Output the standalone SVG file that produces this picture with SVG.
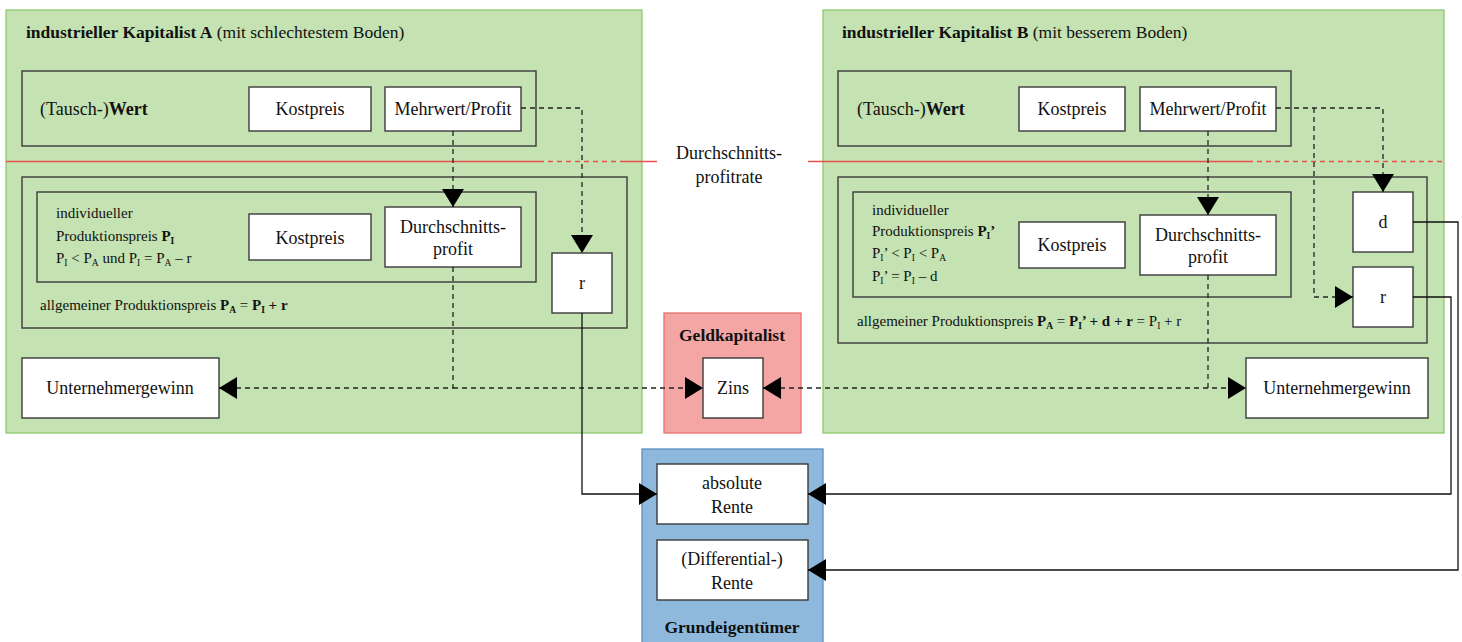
<svg xmlns="http://www.w3.org/2000/svg" width="1462" height="642" viewBox="0 0 1462 642">
<defs>
<style>
text { font-family: "Liberation Serif", "DejaVu Serif", serif; fill: #111; }
.lbl { font-size: 18px; text-anchor: middle; }
.ttl { font-size: 17.5px; }
.sm { font-size: 15px; }
.b { font-weight: bold; }
.sub { font-size: 9.5px; }
.green { fill: #c4e2b2; stroke: #8dca6f; stroke-width: 1.3; }
.frame { fill: none; stroke: #3a3a3a; stroke-width: 1.4; }
.wbox { fill: #ffffff; stroke: #3a3a3a; stroke-width: 1.4; }
.red { fill: #f4a6a5; stroke: #e9706c; stroke-width: 1.3; }
.blue { fill: #8fb9dc; stroke: #5a8fc3; stroke-width: 1.3; }
.dash { fill: none; stroke: #222; stroke-width: 1.3; stroke-dasharray: 5 4; }
.solid { fill: none; stroke: #111; stroke-width: 1.3; }
.rl { fill: none; stroke: #e8524d; stroke-width: 1.5; }
.rld { fill: none; stroke: #e8524d; stroke-width: 1.5; stroke-dasharray: 5 4; }
</style>
<marker id="arr" markerUnits="userSpaceOnUse" viewBox="0 0 18 22" markerWidth="18" markerHeight="22" refX="18" refY="11" orient="auto">
<path d="M0,0 L18,11 L0,22 Z" fill="#000"/>
</marker>
</defs>

<g id="kapitalist-A">
<rect class="green" x="6" y="10" width="636" height="423"/>
<text class="ttl" x="26" y="38"><tspan class="b">industrieller Kapitalist A</tspan> (mit schlechtestem Boden)</text>
</g>
<g id="wert-A">
<rect class="frame" x="22" y="71" width="514" height="75"/>
<text class="lbl" x="40" y="115" style="text-anchor:start">(Tausch-)<tspan class="b">Wert</tspan></text>
</g>
<g id="kostpreis-A1"><rect class="wbox" x="249" y="87" width="122" height="44"/><text class="lbl" x="310" y="115">Kostpreis</text></g>
<g id="mehrwert-A"><rect class="wbox" x="385" y="87" width="136" height="44"/><text class="lbl" x="453" y="115">Mehrwert/Profit</text></g>

<g id="allg-A">
<rect class="frame" x="22" y="177" width="605" height="151"/>
<text class="sm" x="40" y="310">allgemeiner Produktionspreis <tspan class="b">P</tspan><tspan class="sub b" dy="3">A</tspan><tspan dy="-3"> = </tspan><tspan class="b">P</tspan><tspan class="sub b" dy="3">I</tspan><tspan class="b" dy="-3"> + r</tspan></text>
</g>
<g id="indiv-A">
<rect class="frame" x="37" y="192" width="499" height="90"/>
<text class="sm" x="56" y="218">individueller</text>
<text class="sm" x="56" y="241">Produktionspreis <tspan class="b">P</tspan><tspan class="sub b" dy="3">I</tspan></text>
<text class="sm" x="56" y="263">P<tspan class="sub" dy="3">I</tspan><tspan dy="-3"> &lt; P</tspan><tspan class="sub" dy="3">A</tspan><tspan dy="-3"> und P</tspan><tspan class="sub" dy="3">I</tspan><tspan dy="-3"> = P</tspan><tspan class="sub" dy="3">A</tspan><tspan dy="-3"> – r</tspan></text>
</g>
<g id="kostpreis-A2"><rect class="wbox" x="249" y="214" width="122" height="46"/><text class="lbl" x="310" y="244">Kostpreis</text></g>
<g id="dprofit-A"><rect class="wbox" x="385" y="207" width="136" height="60"/><text class="lbl" x="453" y="233">Durchschnitts-</text><text class="lbl" x="453" y="255">profit</text></g>
<g id="r-A"><rect class="wbox" x="552" y="253" width="60" height="60"/><text class="lbl" x="582" y="289">r</text></g>
<g id="unternehmer-A"><rect class="wbox" x="22" y="358" width="197" height="60"/><text class="lbl" x="120" y="394">Unternehmergewinn</text></g>

<g id="kapitalist-B">
<rect class="green" x="823" y="10" width="621" height="423"/>
<text class="ttl" x="842" y="38"><tspan class="b">industrieller Kapitalist B</tspan> (mit besserem Boden)</text>
</g>
<g id="wert-B">
<rect class="frame" x="838" y="71" width="453" height="75"/>
<text class="lbl" x="857" y="115" style="text-anchor:start">(Tausch-)<tspan class="b">Wert</tspan></text>
</g>
<g id="kostpreis-B1"><rect class="wbox" x="1019" y="87" width="106" height="44"/><text class="lbl" x="1072" y="115">Kostpreis</text></g>
<g id="mehrwert-B"><rect class="wbox" x="1140" y="87" width="136" height="44"/><text class="lbl" x="1208" y="115">Mehrwert/Profit</text></g>

<g id="allg-B">
<rect class="frame" x="838" y="177" width="589" height="166"/>
<text class="sm" x="857" y="326">allgemeiner Produktionspreis <tspan class="b">P</tspan><tspan class="sub b" dy="3">A</tspan><tspan dy="-3"> = </tspan><tspan class="b">P</tspan><tspan class="sub b" dy="3">I</tspan><tspan class="b" dy="-3">’ + d + r</tspan> = P<tspan class="sub" dy="3">I</tspan><tspan dy="-3"> + r</tspan></text>
</g>
<g id="indiv-B">
<rect class="frame" x="853" y="192" width="438" height="105"/>
<text class="sm" x="872" y="215">individueller</text>
<text class="sm" x="872" y="236">Produktionspreis <tspan class="b">P</tspan><tspan class="sub b" dy="3">I</tspan><tspan class="b" dy="-3">’</tspan></text>
<text class="sm" x="872" y="258">P<tspan class="sub" dy="3">I</tspan><tspan dy="-3">’ &lt; P</tspan><tspan class="sub" dy="3">I</tspan><tspan dy="-3"> &lt; P</tspan><tspan class="sub" dy="3">A</tspan></text>
<text class="sm" x="872" y="281">P<tspan class="sub" dy="3">I</tspan><tspan dy="-3">’ = P</tspan><tspan class="sub" dy="3">I</tspan><tspan dy="-3"> – d</tspan></text>
</g>
<g id="kostpreis-B2"><rect class="wbox" x="1019" y="222" width="106" height="46"/><text class="lbl" x="1072" y="251">Kostpreis</text></g>
<g id="dprofit-B"><rect class="wbox" x="1140" y="215" width="136" height="60"/><text class="lbl" x="1208" y="241">Durchschnitts-</text><text class="lbl" x="1208" y="263">profit</text></g>
<g id="d-B"><rect class="wbox" x="1353" y="192" width="60" height="60"/><text class="lbl" x="1383" y="228">d</text></g>
<g id="r-B"><rect class="wbox" x="1353" y="267" width="60" height="60"/><text class="lbl" x="1383" y="303">r</text></g>
<g id="unternehmer-B"><rect class="wbox" x="1246" y="358" width="182" height="60"/><text class="lbl" x="1337" y="394">Unternehmergewinn</text></g>

<g id="profitrate">
<path class="rl" d="M6,161.5 H539"/>
<path class="rld" d="M539,161.5 H622"/>
<path class="rl" d="M622,161.5 H657"/>
<path class="rl" d="M808,161.5 H1248"/>
<path class="rld" d="M1248,161.5 H1444"/>
<text class="lbl" x="729" y="159">Durchschnitts-</text>
<text class="lbl" x="729" y="183">profitrate</text>
</g>

<g id="geldkapitalist">
<rect class="red" x="664" y="313" width="137" height="120"/>
<text class="ttl b" x="732" y="341" text-anchor="middle">Geldkapitalist</text>
</g>
<g id="zins"><rect class="wbox" x="703" y="358" width="60" height="60"/><text class="lbl" x="733" y="394">Zins</text></g>

<g id="grundeigentuemer">
<rect class="blue" x="642" y="449" width="181" height="200"/>
<text class="ttl b" x="732" y="633" text-anchor="middle">Grundeigentümer</text>
</g>
<g id="absolute-rente"><rect class="wbox" x="657" y="464" width="151" height="60"/><text class="lbl" x="732" y="489">absolute</text><text class="lbl" x="732" y="513">Rente</text></g>
<g id="differential-rente"><rect class="wbox" x="657" y="540" width="151" height="60"/><text class="lbl" x="732" y="565">(Differential-)</text><text class="lbl" x="732" y="589">Rente</text></g>

<g id="connectors">
<path class="dash" d="M453,131 V207" marker-end="url(#arr)"/>
<path class="dash" d="M521,108 H582 V253" marker-end="url(#arr)"/>
<path class="dash" d="M453,267 V388 H219" marker-end="url(#arr)"/>
<path class="dash" d="M453,388 H703" marker-end="url(#arr)"/>
<path class="solid" d="M582,313 V494 H657" marker-end="url(#arr)"/>
<path class="dash" d="M1208,131 V215" marker-end="url(#arr)"/>
<path class="dash" d="M1276,108 H1383 V192" marker-end="url(#arr)"/>
<path class="dash" d="M1314,108 V297 H1353" marker-end="url(#arr)"/>
<path class="dash" d="M1208,275 V388 H1246" marker-end="url(#arr)"/>
<path class="dash" d="M1208,388 H763" marker-end="url(#arr)"/>
<path class="solid" d="M1413,297 H1451 V494 H808" marker-end="url(#arr)"/>
<path class="solid" d="M1413,222 H1458 V570 H808" marker-end="url(#arr)"/>
</g>
</svg>
